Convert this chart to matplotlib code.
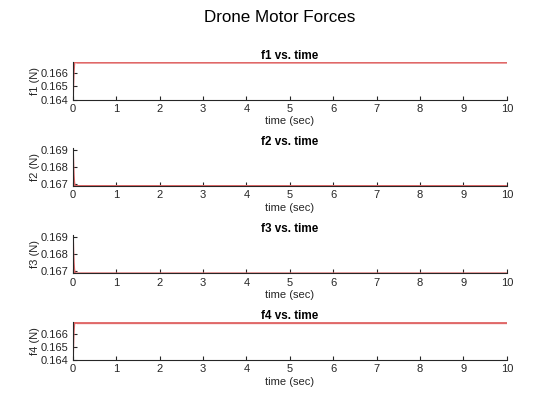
import matplotlib.pyplot as plt

plt.rcParams["font.family"] = ["Liberation Sans", "DejaVu Sans"]

# time samples (sec), dense near the start where the transient happens
time = [0, 0.01, 0.02, 0.03, 0.04, 0.05, 0.06, 0.08, 0.1, 0.15, 0.2, 0.5, 1, 2, 3, 4, 5, 6, 7, 8, 9, 10]

f1 = [0.16400, 0.16520, 0.16610, 0.16660, 0.16682, 0.16686, 0.16684, 0.16680, 0.16678, 0.16678,
      0.16678, 0.16678, 0.16678, 0.16678, 0.16678, 0.16678, 0.16678, 0.16678, 0.16678, 0.16678,
      0.16678, 0.16678]
f2 = [0.16910, 0.16820, 0.16750, 0.16710, 0.16692, 0.16686, 0.16685, 0.16685, 0.16685, 0.16685,
      0.16685, 0.16685, 0.16685, 0.16685, 0.16685, 0.16685, 0.16685, 0.16685, 0.16685, 0.16685,
      0.16685, 0.16685]
f3 = [0.16910, 0.16820, 0.16750, 0.16710, 0.16692, 0.16686, 0.16685, 0.16685, 0.16685, 0.16685,
      0.16685, 0.16685, 0.16685, 0.16685, 0.16685, 0.16685, 0.16685, 0.16685, 0.16685, 0.16685,
      0.16685, 0.16685]
f4 = [0.16400, 0.16530, 0.16620, 0.16668, 0.16688, 0.16691, 0.16688, 0.16684, 0.16682, 0.16682,
      0.16682, 0.16682, 0.16682, 0.16682, 0.16682, 0.16682, 0.16682, 0.16682, 0.16682, 0.16682,
      0.16682, 0.16682]

names = ["f1", "f2", "f3", "f4"]
forces = [f1, f2, f3, f4]
yticks = [
    [0.164, 0.165, 0.166],
    [0.167, 0.168, 0.169],
    [0.167, 0.168, 0.169],
    [0.164, 0.165, 0.166],
]
xticks = list(range(0, 11))

grey = "#262626"
fig = plt.figure(figsize=(5.6, 4.2), dpi=100)
fig.suptitle("Drone Motor Forces", fontsize=12.25, y=0.975)

bottoms = [0.763, 0.557, 0.349, 0.143]
for i in range(4):
    ax = fig.add_axes([0.130, bottoms[i], 0.775, 0.0905])
    ax.plot(time, forces[i], color="#e06868", lw=1.5)
    ax.set_xlim(0, 10)
    ax.set_ylim(min(forces[i]), max(forces[i]))
    ax.set_xticks(xticks)
    ax.set_yticks(yticks[i])
    ax.set_yticklabels([f"{v:.3f}" for v in yticks[i]])
    ax.spines["top"].set_visible(False)
    ax.spines["right"].set_visible(False)
    ax.spines["left"].set_color(grey)
    ax.spines["bottom"].set_color(grey)
    ax.tick_params(direction="in", length=3, labelsize=8, pad=3, colors=grey)
    ax.set_title(names[i] + " vs. time", fontsize=8.4, fontweight="bold", pad=2)
    ax.set_xlabel("time (sec)", fontsize=8, labelpad=2, color=grey)
    ax.set_ylabel(names[i] + " (N)", fontsize=8, color=grey)
    ax.yaxis.set_label_coords(-0.075, 0.5)

fig.savefig("out.png")
